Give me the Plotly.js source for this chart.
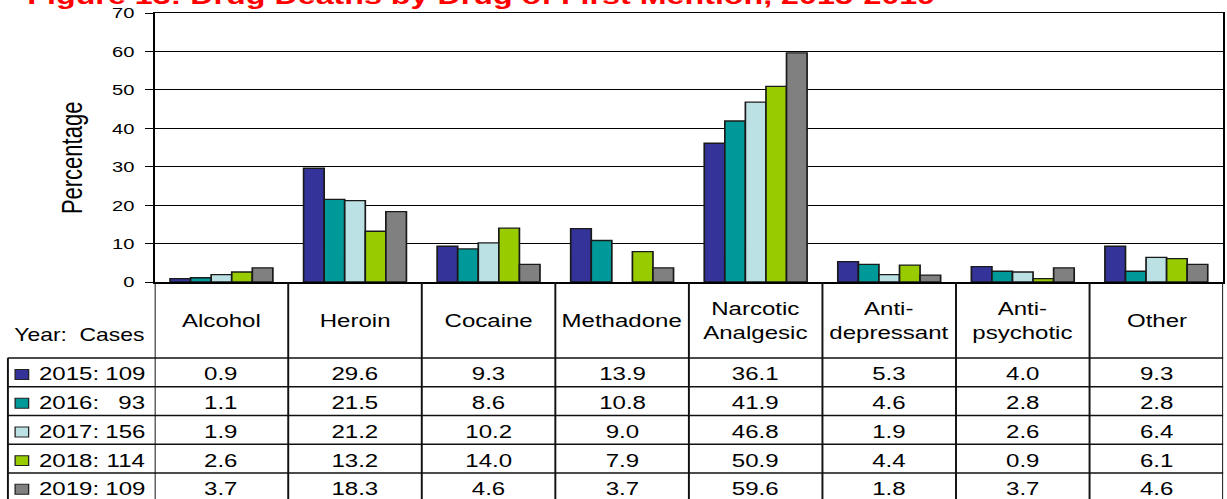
<!DOCTYPE html>
<html><head><meta charset="utf-8">
<script src="https://cdn.plot.ly/plotly-3.0.1.min.js"></script>
<style>
html,body{margin:0;padding:0;overflow:hidden;background:#fff}
#wrap{width:1227px;height:499px;overflow:hidden;position:relative}
#chart{width:944px;height:499px;transform:scaleX(1.2998);transform-origin:0 0}
</style></head><body><div id="wrap"><div id="chart"></div></div>
<script>
// ---- data ----
const categories = ['Alcohol','Heroin','Cocaine','Methadone','Narcotic Analgesic','Anti-depressant','Anti-psychotic','Other'];
const headerLabels = ['Alcohol','Heroin','Cocaine','Methadone','Narcotic<br>Analgesic','Anti-<br>depressant','Anti-<br>psychotic','Other'];
const yearLabels = ['2015:','2016:','2017:','2018:','2019:'];
const cases = [109, 93, 156, 114, 109];
const v2015 = [0.9, 29.6, 9.3, 13.9, 36.1, 5.3, 4.0, 9.3];
const v2016 = [1.1, 21.5, 8.6, 10.8, 41.9, 4.6, 2.8, 2.8];
const v2017 = [1.9, 21.2, 10.2, 9.0, 46.8, 1.9, 2.6, 6.4];
const v2018 = [2.6, 13.2, 14.0, 7.9, 50.9, 4.4, 0.9, 6.1];
const v2019 = [3.7, 18.3, 4.6, 3.7, 59.6, 1.8, 3.7, 4.6];
const yTicks = [0, 10, 20, 30, 40, 50, 60, 70];
const titleText = 'Figure 13: Drug Deaths by Drug of First Mention, 2015-2019';

// ---- styling / layout helpers ----
const series = [v2015, v2016, v2017, v2018, v2019];
const colors = ['#333399', '#009999', '#BCE1E4', '#99CC00', '#808080'];
// in the reference the 2017 Methadone bar is not drawn (value shown only in the table)
const hiddenBars = [[], [], ['Methadone'], [], []];
const S = 1227 / 944;          // horizontal stretch of the page
const PL = 155, PR = 1223, PT = 12.5, PB = 282.2;  // plot box in screen px
const FONT = 'Liberation Sans, Arial, sans-serif';
const px = x => (x - PL) / (PR - PL);       // screen x -> paper
const py = y => (PB - y) / (PB - PT);       // screen y -> paper

const traces = series.map((vals, i) => ({
  type: 'bar', x: categories, y: vals, name: yearLabels[i],
  marker: {color: colors[i], line: {color: '#1a1a1a', width: 1.3},
    opacity: categories.map(c => hiddenBars[i].includes(c) ? 0 : 1)},
  hoverinfo: 'x+y'
}));

const shapes = [];
const annotations = [];
const lineColor = '#111';
// vertical table lines at category boundaries
for (let i = 0; i <= categories.length; i++) {
  shapes.push({type: 'line', xref: 'x', yref: 'paper', x0: i - 0.5, x1: i - 0.5,
    y0: py(282.2), y1: py(505), line: {color: lineColor, width: 1.5}});
}
// horizontal row lines
const rowTops = [358.5, 387.3, 416.1, 444.9, 473.7];
const rowH = 28.8;
rowTops.forEach(t => shapes.push({type: 'line', xref: 'paper', yref: 'paper',
  x0: px(8), x1: 1, y0: py(t), y1: py(t), line: {color: lineColor, width: 1.5}}));
// left border of legend column
shapes.push({type: 'line', xref: 'paper', yref: 'paper', x0: px(8.3), x1: px(8.3),
  y0: py(358.5), y1: py(505), line: {color: lineColor, width: 1.5}});

// header labels
headerLabels.forEach((lab, i) => annotations.push({xref: 'x', yref: 'paper', x: i, y: py(321),
  text: lab, showarrow: false, xanchor: 'center', yanchor: 'middle',
  font: {family: FONT, size: 18.5, color: '#000'}}));
annotations.push({xref: 'paper', yref: 'paper', x: px(79), y: py(335.5), text: 'Year:\u00a0 Cases',
  showarrow: false, xanchor: 'center', yanchor: 'middle', font: {family: FONT, size: 17.6, color: '#000'}});

// rows
series.forEach((vals, r) => {
  const cy = rowTops[r] + rowH / 2 + 1.5;
  shapes.push({type: 'rect', xref: 'paper', yref: 'paper', x0: px(15.5), x1: px(29),
    y0: py(cy - 4.5), y1: py(cy + 5.5), fillcolor: colors[r], line: {color: '#222', width: 1}});
  annotations.push({xref: 'paper', yref: 'paper', x: px(36.5), y: py(cy), text: yearLabels[r],
    showarrow: false, xanchor: 'left', yanchor: 'middle', font: {family: FONT, size: 18.5, color: '#000'}});
  annotations.push({xref: 'paper', yref: 'paper', x: px(148), y: py(cy), text: String(cases[r]),
    showarrow: false, xanchor: 'right', yanchor: 'middle', font: {family: FONT, size: 18.5, color: '#000'}});
  vals.forEach((v, i) => annotations.push({xref: 'x', yref: 'paper', x: i, y: py(cy),
    text: v.toFixed(1), showarrow: false, xanchor: 'center', yanchor: 'middle',
    font: {family: FONT, size: 18.5, color: '#000'}}));
});

// y-axis title
annotations.push({xref: 'paper', yref: 'paper', x: px(72.5), y: py(157.5), text: 'Percentage',
  textangle: -90, showarrow: false, xanchor: 'center', yanchor: 'middle',
  font: {family: FONT, size: 22, color: '#000'}});
// (clipped) title
annotations.push({xref: 'paper', yref: 'paper', x: px(25), y: py(-5), text: '<b>' + titleText + '</b>',
  showarrow: false, xanchor: 'left', yanchor: 'middle',
  font: {family: FONT, size: 24.8, color: '#FF0000'}});

const layout = {
  width: 944, height: 499,
  margin: {l: PL / S, r: (1227 - PR) / S, t: PT, b: 499 - PB, pad: 0},
  paper_bgcolor: '#fff', plot_bgcolor: '#fff',
  barmode: 'group', bargap: 0.23, bargroupgap: 0,
  showlegend: false,
  xaxis: {type: 'category', categoryarray: categories, range: [-0.5, categories.length - 0.5],
    showticklabels: false, ticks: '', showgrid: false, zeroline: false,
    showline: true, linecolor: '#000', linewidth: 1.5, mirror: true, fixedrange: true},
  yaxis: {range: [0, 70], tickvals: yTicks, ticktext: yTicks.map(String),
    ticks: 'outside', ticklen: 6, tickwidth: 1, tickcolor: '#000', ticklabelstandoff: 5,
    tickfont: {family: FONT, size: 15.5, color: '#000'},
    showgrid: true, gridcolor: '#000', gridwidth: 1, zeroline: false,
    showline: true, linecolor: '#000', linewidth: 1.5, mirror: true, fixedrange: true},
  shapes: shapes, annotations: annotations
};

Plotly.newPlot('chart', traces, layout, {displayModeBar: false, staticPlot: true});
</script></body></html>
